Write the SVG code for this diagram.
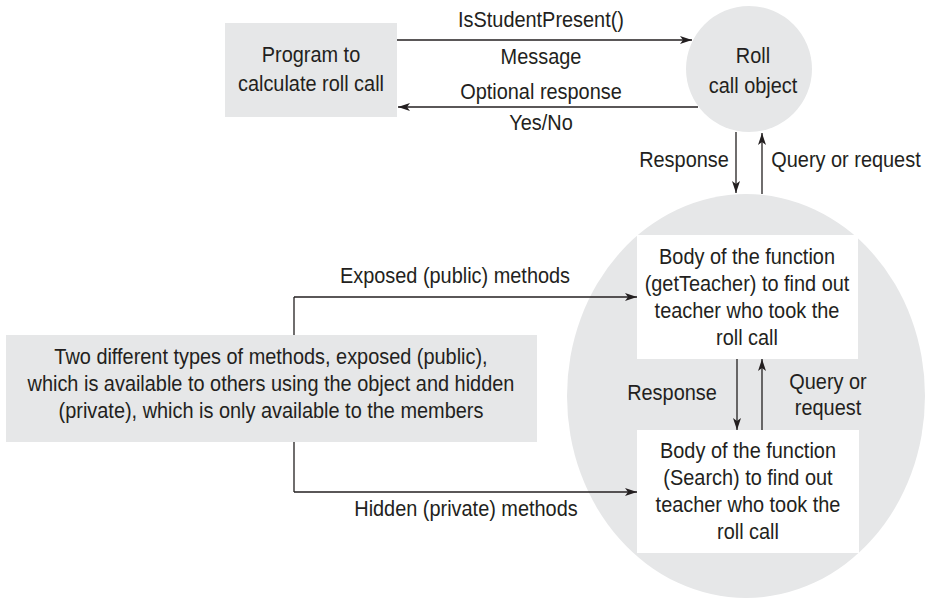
<svg xmlns="http://www.w3.org/2000/svg" width="926" height="599" viewBox="0 0 926 599">
<defs>
<style>
text{font-family:"Liberation Sans",Arial,sans-serif;font-size:22.5px;fill:#231f20;text-anchor:middle;transform-box:fill-box;transform-origin:center;transform:scaleX(0.885)}
.g{fill:#e6e7e8}
.w{fill:#ffffff}
.ln{stroke:#231f20;stroke-width:1.3;fill:none}
</style>
<marker id="ah" viewBox="0 0 12 8" refX="12" refY="4" markerWidth="12" markerHeight="8" markerUnits="userSpaceOnUse" orient="auto">
<path d="M0,0 L12,4 L0,8 L3,4 Z" fill="#231f20"/>
</marker>
</defs>
<rect width="926" height="599" fill="#ffffff"/>
<g id="bodyObject">
<ellipse class="g" cx="746" cy="396" rx="179" ry="202"/>
</g>
<g id="program">
<rect class="g" x="225" y="23" width="172" height="94"/>
<text x="311" y="62">Program to</text>
<text x="311" y="91">calculate roll call</text>
</g>
<g id="rollCall">
<circle class="g" cx="749" cy="69" r="63"/>
<text x="753" y="63">Roll</text>
<text x="753" y="93">call object</text>
</g>
<g id="getTeacher">
<rect class="w" x="637" y="235" width="221" height="124"/>
<text x="747" y="264">Body of the function</text>
<text x="747" y="291">(getTeacher) to find out</text>
<text x="747" y="318">teacher who took the</text>
<text x="747" y="345">roll call</text>
</g>
<g id="search">
<rect class="w" x="637" y="430" width="222" height="123"/>
<text x="748" y="458">Body of the function</text>
<text x="748" y="485">(Search) to find out</text>
<text x="748" y="512">teacher who took the</text>
<text x="748" y="539">roll call</text>
</g>
<g id="connectors">
<line class="ln" x1="397" y1="40" x2="692" y2="40" marker-end="url(#ah)"/>
<line class="ln" x1="698" y1="107" x2="398" y2="107" marker-end="url(#ah)"/>
<line class="ln" x1="736" y1="132" x2="736" y2="193" marker-end="url(#ah)"/>
<line class="ln" x1="762" y1="194" x2="762" y2="133" marker-end="url(#ah)"/>
<line class="ln" x1="737" y1="359" x2="737" y2="430" marker-end="url(#ah)"/>
<line class="ln" x1="762" y1="430" x2="762" y2="359" marker-end="url(#ah)"/>
<polyline class="ln" points="294,297 294,492"/>
<line class="ln" x1="294" y1="297" x2="637" y2="297" marker-end="url(#ah)"/>
<line class="ln" x1="294" y1="492" x2="637" y2="492" marker-end="url(#ah)"/>
</g>
<g id="labels">
<text x="541" y="27">IsStudentPresent()</text>
<text x="541" y="64">Message</text>
<text x="541" y="99">Optional response</text>
<text x="541" y="130">Yes/No</text>
<text x="684" y="167">Response</text>
<text x="846" y="167">Query or request</text>
<text x="672" y="400">Response</text>
<text x="828" y="389">Query or</text>
<text x="828" y="415">request</text>
<text x="455" y="283">Exposed (public) methods</text>
<text x="466" y="516">Hidden (private) methods</text>
</g>
<g id="methods">
<rect class="g" x="6" y="335" width="531" height="107"/>
<text x="271" y="364">Two different types of methods, exposed (public),</text>
<text x="271" y="391">which is available to others using the object and hidden</text>
<text x="271" y="418">(private), which is only available to the members</text>
</g>
</svg>
